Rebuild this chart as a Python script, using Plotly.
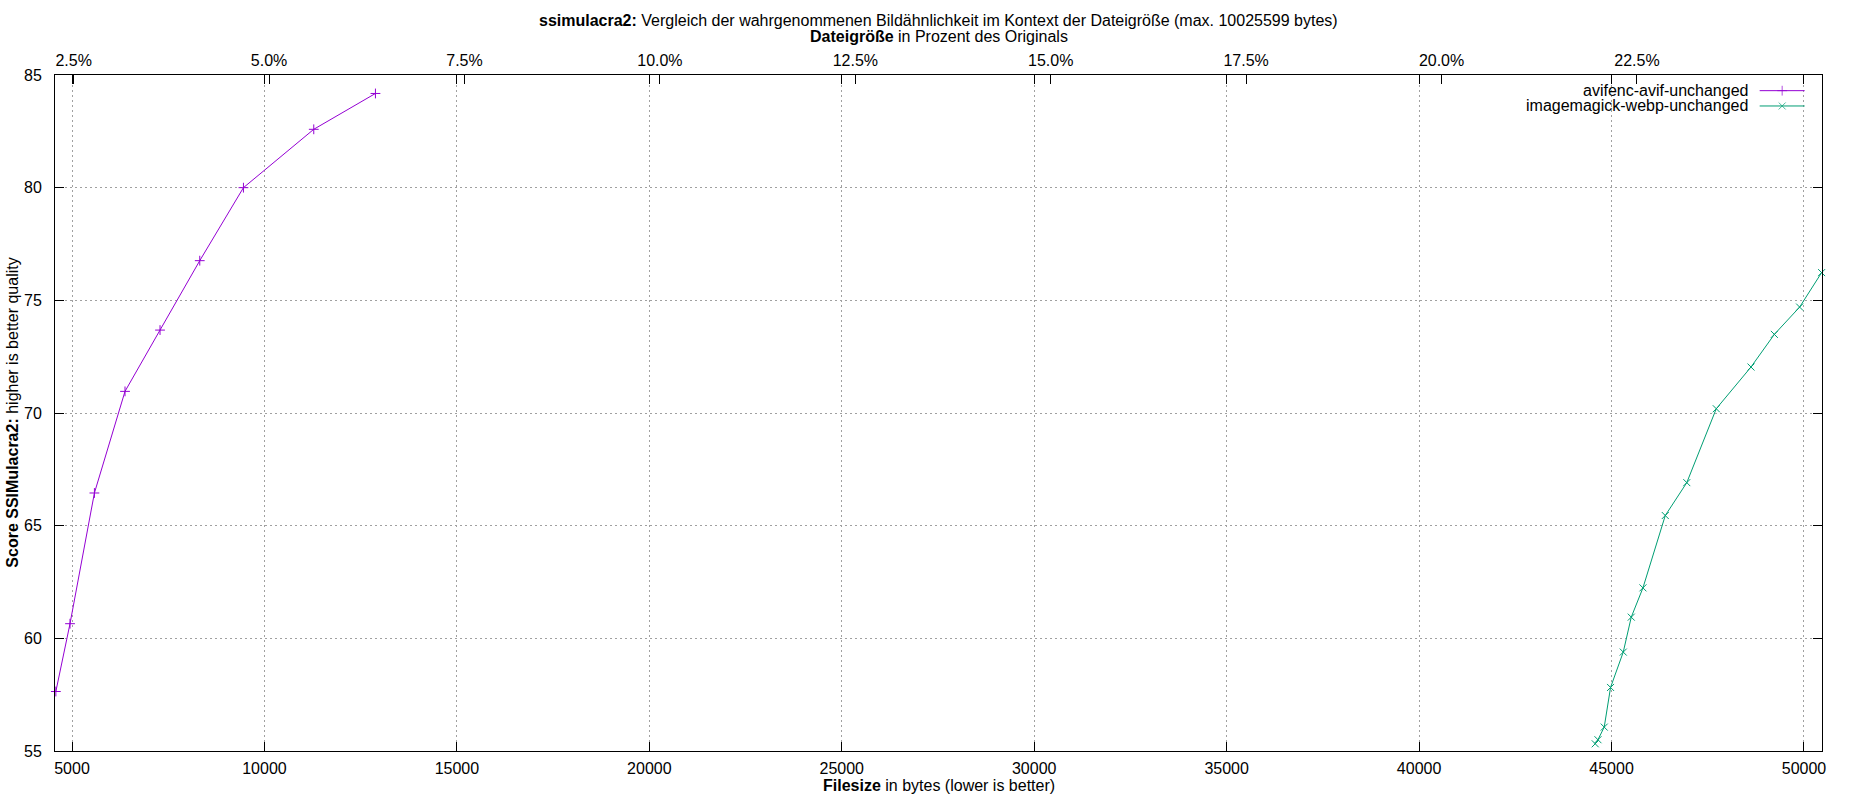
import plotly.graph_objects as go

# values
avif_size = [4580, 4948, 5582, 6377, 7287, 8319, 9454, 11281, 12884]
avif_score = [57.64, 60.65, 66.45, 70.96, 73.68, 76.76, 80.0, 82.59, 84.18]

webp_size = [44576, 44647, 44810, 44974, 45304, 45512, 45816, 46396, 46955,
             47721, 48623, 49230, 49887, 50458]
webp_score = [55.32, 55.50, 56.06, 57.82, 59.39, 60.94, 62.24, 65.45, 66.91,
              70.19, 72.04, 73.49, 74.70, 76.23]

series_names = ["avifenc-avif-unchanged", "imagemagick-webp-unchanged"]
series_colors = ["#9400d3", "#009e73"]
series_symbols = ["cross-thin-open", "x-thin-open"]

x_ticks = [5000, 10000, 15000, 20000, 25000, 30000, 35000, 40000, 45000, 50000]
x_labels = ["5000", "10000", "15000", "20000", "25000", "30000", "35000", "40000", "45000", "50000"]
pct_ticks = [2.5, 5.0, 7.5, 10.0, 12.5, 15.0, 17.5, 20.0, 22.5]
pct_labels = ["2.5%", "5.0%", "7.5%", "10.0%", "12.5%", "15.0%", "17.5%", "20.0%", "22.5%"]
y_ticks = [55, 60, 65, 70, 75, 80, 85]

FONT = "Liberation Sans, Arial, sans-serif"
FS = 16
W, H = 1850, 800
# plot frame in pixels
L, R, T, B = 55.33, 1822.33, 75.33, 751.33


def px_x(v):
    return (v - L) / (R - L)


def px_y(v):
    return (B - v) / (B - T)


fig = go.Figure()

for name, xs, ys, color, sym in zip(series_names, [avif_size, webp_size],
                                    [avif_score, webp_score], series_colors, series_symbols):
    fig.add_trace(go.Scatter(
        x=xs, y=ys, name=name, mode="lines+markers",
        line=dict(color=color, width=1),
        marker=dict(symbol=sym, size=7, color=color, line=dict(color=color, width=1)),
        cliponaxis=False, showlegend=False,
    ))

# hand-made gnuplot style key (text left, sample right), in pixel units on a helper axis
key_rows = [91, 106.3]
for i, (name, color, sym) in enumerate(zip(series_names, series_colors, series_symbols)):
    fig.add_trace(go.Scatter(
        x=[1760, 1782.5, 1805], y=[key_rows[i]] * 3, mode="lines+markers",
        line=dict(color=color, width=1),
        marker=dict(symbol=sym, size=[0, 7, 0], color=color, line=dict(color=color, width=1)),
        xaxis="x3", yaxis="y3", showlegend=False, hoverinfo="skip",
    ))
    fig.add_annotation(text=name, xref="paper", yref="paper", x=px_x(1750), y=px_y(key_rows[i]),
                       xanchor="right", yanchor="middle", showarrow=False,
                       font=dict(family=FONT, size=FS, color="black"))

# secondary top axis: dummy trace so the axis renders
fig.add_trace(go.Scatter(x=[None], y=[None], xaxis="x2", showlegend=False, hoverinfo="skip"))

grid = dict(showgrid=True, gridcolor="#a0a0a0", gridwidth=1, griddash="2px,3px")
tick_common = dict(ticks="inside", tickcolor="black", tickwidth=1, ticklen=9, zeroline=False,
                   tickfont=dict(family=FONT, size=FS, color="black"))
frame = dict(showline=True, linecolor="black", linewidth=1)

fig.update_layout(
    width=W, height=H,
    margin=dict(l=L, r=W - R, t=T, b=H - B, pad=0),
    plot_bgcolor="white", paper_bgcolor="white",
    showlegend=False,
    xaxis=dict(range=[4558, 50468], tickvals=x_ticks, ticktext=x_labels, mirror="ticks",
               ticklabelstandoff=3, **grid, **tick_common, **frame),
    xaxis2=dict(range=[2.261, 24.867], tickvals=pct_ticks, ticktext=pct_labels,
                overlaying="x", side="top", showgrid=False, showline=False,
                ticklabelstandoff=5, **tick_common),
    yaxis=dict(range=[55, 85], tickvals=y_ticks, mirror="ticks", ticklabelstandoff=9,
               **grid, **tick_common, **frame),
    xaxis3=dict(range=[L, R], overlaying="x", visible=False),
    yaxis3=dict(range=[B, T], overlaying="y", visible=False),
)

# titles as annotations, placed like gnuplot
fig.add_annotation(
    text="<b>ssimulacra2:</b> Vergleich der wahrgenommenen Bildähnlichkeit im Kontext der Dateigröße (max. 10025599 bytes)",
    xref="paper", yref="paper", x=0.5, y=px_y(21), xanchor="center", yanchor="middle",
    showarrow=False, font=dict(family=FONT, size=FS, color="black"))
fig.add_annotation(
    text="<b>Dateigröße</b> in Prozent des Originals",
    xref="paper", yref="paper", x=0.5, y=px_y(37), xanchor="center", yanchor="middle",
    showarrow=False, font=dict(family=FONT, size=FS, color="black"))
fig.add_annotation(
    text="<b>Filesize</b> in bytes (lower is better)",
    xref="paper", yref="paper", x=0.5, y=px_y(786), xanchor="center", yanchor="middle",
    showarrow=False, font=dict(family=FONT, size=FS, color="black"))
fig.add_annotation(
    text="<b>Score SSIMulacra2:</b> higher is better quality",
    xref="paper", yref="paper", x=px_x(12), y=0.5, xanchor="center", yanchor="middle",
    textangle=-90, showarrow=False, font=dict(family=FONT, size=FS, color="black"))

# drop the default page margin so the figure sits at the window origin
fig.write_html("out.html", config={"displayModeBar": False},
               post_script="document.body.style.margin='0';")
